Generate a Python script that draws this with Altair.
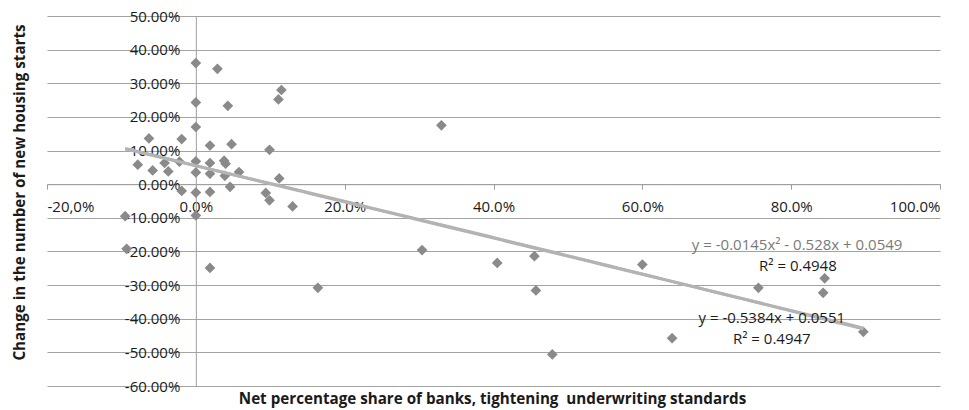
import altair as alt
import numpy as np
import pandas as pd

# Net percentage share of banks tightening underwriting standards (%)
tightening = [
    0.0, 2.9, 0.0, 4.3, 11.5, 11.1, 0.0, 33.0, -6.3, -1.9,
    1.9, 4.8, 9.9, -7.8, -5.8, -4.2, -3.7, -2.2, 0.0, 0.0,
    1.9, 1.9, 3.8, 4.0, 3.9, 5.8, 4.6, 11.2, -1.9, 0.0,
    1.9, 9.4, 9.9, 13.0, -9.5, 0.0, -9.3, 1.9, 16.4, 30.4,
    40.5, 45.5, 45.7, 47.9, 60.0, 64.0, 75.6, 84.5, 84.3, 89.7,
]
# Change in the number of new housing starts (%)
housing_change = [
    36.0, 34.3, 24.3, 23.3, 28.0, 25.2, 17.0, 17.5, 13.6, 13.4,
    11.5, 11.9, 10.2, 5.8, 4.1, 6.3, 3.8, 6.7, 6.8, 3.5,
    6.3, 3.1, 7.0, 6.1, 2.5, 3.6, -0.8, 1.7, -2.0, -2.5,
    -2.3, -2.6, -4.8, -6.6, -9.5, -9.3, -19.2, -24.9, -30.8, -19.6,
    -23.4, -21.4, -31.6, -50.6, -23.9, -45.8, -30.8, -28.0, -32.3, -43.9,
]

# Trend line coefficients, as printed on the chart
linear_coef = (-0.5384, 0.0551)
quad_coef = (-0.0145, -0.528, 0.0549)

x_ticks = [-0.2, 0.0, 0.2, 0.4, 0.6, 0.8, 1.0]
y_ticks = [-0.6, -0.5, -0.4, -0.3, -0.2, -0.1, 0.0, 0.1, 0.2, 0.3, 0.4, 0.5]

eq_text = [
    "y = -0.0145x\u00b2 - 0.528x + 0.0549",
    "R\u00b2 = 0.4948",
    "y = -0.5384x + 0.0551",
    "R\u00b2 = 0.4947",
]
eq_x = [0.808, 0.809, 0.774, 0.774]
eq_y = [-0.180, -0.242, -0.399, -0.461]
eq_color = ["#7a7a7a", "#1a1a1a", "#1a1a1a", "#1a1a1a"]

FONT = "Open Sans"
W, H = 893, 370
X_DOM = [-0.2, 1.0]
Y_DOM = [-0.6, 0.5]

points = pd.DataFrame({
    "x": np.array(tightening) / 100.0,
    "y": np.array(housing_change) / 100.0,
})

# Trend curves evaluated over the observed range of x
xs = np.linspace(points["x"].min(), points["x"].max(), 80)
fit = pd.concat([
    pd.DataFrame({"x": xs, "y": linear_coef[0] * xs + linear_coef[1], "fit": "linear"}),
    pd.DataFrame({"x": xs, "y": quad_coef[0] * xs**2 + quad_coef[1] * xs + quad_coef[2],
                  "fit": "quadratic"}),
])

notes = pd.DataFrame({"text": eq_text, "x": eq_x, "y": eq_y, "color": eq_color})

# Axes cross at the origin: shift them from the plot edges to x=0 / y=0
x_axis_shift = -H * (0 - Y_DOM[0]) / (Y_DOM[1] - Y_DOM[0])
y_axis_shift = -W * (0 - X_DOM[0]) / (X_DOM[1] - X_DOM[0])

x_scale = alt.Scale(domain=X_DOM, nice=False, zero=False)
y_scale = alt.Scale(domain=Y_DOM, nice=False, zero=False)

x_enc = alt.X(
    "x:Q", scale=x_scale,
    title="Net percentage share of banks, tightening\u00a0 underwriting standards",
    axis=alt.Axis(
        values=x_ticks, tickCount=len(x_ticks), grid=False, offset=x_axis_shift,
        labelOverlap=False,
        labelExpr="datum.value < -0.1 ? '-20,0%' : format(datum.value, '.1%')",
        domainColor="#9f9f9f", tickColor="#9f9f9f", tickSize=5,
        labelPadding=10, labelFont=FONT, labelFontSize=15, labelColor="#1a1a1a",
        titleFont=FONT, titleFontSize=15.2, titleFontWeight="bold", titleColor="#1a1a1a",
        titleX=445, titleY=214, titleAlign="center", titleBaseline="middle",
    ),
)
y_enc = alt.Y(
    "y:Q", scale=y_scale,
    title="Change in the number of new housing starts",
    axis=alt.Axis(
        values=y_ticks, tickCount=len(y_ticks), grid=True, gridColor="#a3a3a3", gridWidth=1,
        offset=y_axis_shift, ticks=False, labelOverlap=False,
        labelExpr="(datum.value < -0.0001 ? '-' : '') + format(abs(datum.value), '.2%')",
        domainColor="#9f9f9f", labelPadding=16,
        labelFont=FONT, labelFontSize=15, labelColor="#1a1a1a",
        titleFont=FONT, titleFontSize=15.2, titleFontWeight="bold", titleColor="#1a1a1a",
        titleX=-176, titleY=176, titleAlign="center", titleBaseline="middle", titleAngle=-90,
    ),
)

scatter = alt.Chart(points).mark_point(
    shape="diamond", filled=True, size=115, color="#8a8a8a", opacity=1
).encode(x=x_enc, y=y_enc)

trend = alt.Chart(fit).mark_line(color="#b3b3b3", strokeWidth=3).encode(
    x=alt.X("x:Q", scale=x_scale),
    y=alt.Y("y:Q", scale=y_scale),
    detail="fit:N",
)

labels = alt.Chart(notes).mark_text(
    font=FONT, fontSize=15, align="center", baseline="middle"
).encode(
    x=alt.X("x:Q", scale=x_scale),
    y=alt.Y("y:Q", scale=y_scale),
    text="text:N",
    color=alt.Color("color:N", scale=None),
)

chart = alt.layer(scatter, trend, labels).properties(
    width=W, height=H,
    autosize=alt.AutoSizeParams(type="none"),
    padding={"left": 47, "top": 16, "right": 29, "bottom": 24},
    background="white",
).configure_view(stroke=None)

chart.save("out.html", embed_options={"renderer": "svg", "actions": False})
